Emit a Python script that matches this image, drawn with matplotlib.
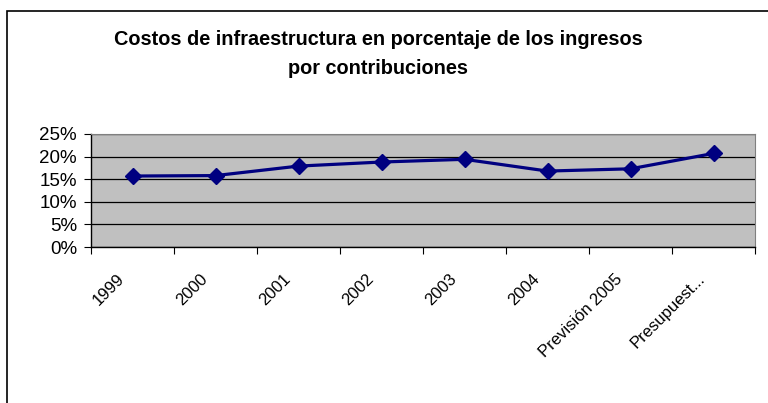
import matplotlib.pyplot as plt
from matplotlib.patches import Rectangle
from matplotlib.ticker import FixedLocator, FuncFormatter
from matplotlib.transforms import ScaledTranslation

# Data
categories = ["1999", "2000", "2001", "2002", "2003", "2004", "Previsión 2005", "Presupuest..."]
values = [15.7, 15.8, 17.9, 18.8, 19.4, 16.8, 17.3, 20.7]  # percent
y_ticks = [0, 5, 10, 15, 20, 25]

title = "Costos de infraestructura en porcentaje de los ingresos\npor contribuciones"

plt.rcParams['font.family'] = ['Liberation Sans', 'DejaVu Sans']

fig = plt.figure(figsize=(7.68, 4.03), dpi=100)
W, H = 768, 403

# outer chart frame (cut off at right and bottom)
fig.patches.append(Rectangle((7 / W, -0.1), 1.2, 1 - 11 / H + 0.1,
                             transform=fig.transFigure, fill=False,
                             edgecolor='black', linewidth=1.2))

ax = fig.add_axes([91 / W, 1 - 247 / H, (755 - 91) / W, (247 - 134) / H])
ax.set_facecolor('#C0C0C0')

x = list(range(len(categories)))
ax.plot(x, values, color='#000080', linewidth=2.3, marker='D',
        markersize=8.5, markerfacecolor='#000080', markeredgecolor='#000080',
        zorder=3)

ax.set_xlim(-0.5, len(categories) - 0.5)
ax.set_ylim(0, 25)
ax.set_yticks(y_ticks)
ax.yaxis.set_major_formatter(FuncFormatter(lambda v, p: f"{v:.0f}%"))
ax.grid(axis='y', color='black', linewidth=0.9)
ax.set_axisbelow(True)

# category ticks between categories, labels at centers
ax.xaxis.set_major_locator(FixedLocator([i - 0.5 for i in range(len(categories) + 1)]))
ax.xaxis.set_major_formatter(FuncFormatter(lambda v, p: ""))
ax.xaxis.set_minor_locator(FixedLocator(x))
ax.set_xticklabels(categories, minor=True, rotation=45, ha='right',
                   va='top', rotation_mode='anchor', fontsize=12)
ax.tick_params(axis='x', which='minor', length=0, pad=0)
ax.tick_params(axis='x', which='major', length=5, direction='out', color='black')
ax.tick_params(axis='y', length=5, direction='out', labelsize=13.5, pad=5)

# shift the rotated labels like Excel does
shift = ScaledTranslation(-16 / 100, -24 / 100, fig.dpi_scale_trans)
for lbl in ax.get_xticklabels(minor=True):
    lbl.set_transform(lbl.get_transform() + shift)

for side in ['top', 'right']:
    ax.spines[side].set_color('#808080')
for side in ['left', 'bottom']:
    ax.spines[side].set_color('black')
    ax.spines[side].set_linewidth(1.0)

fig.text(378 / W, 1 - 54 / H, title, ha='center', va='center',
         fontsize=14.3, fontweight='bold', linespacing=1.65)

fig.savefig("out.png", dpi=100)
